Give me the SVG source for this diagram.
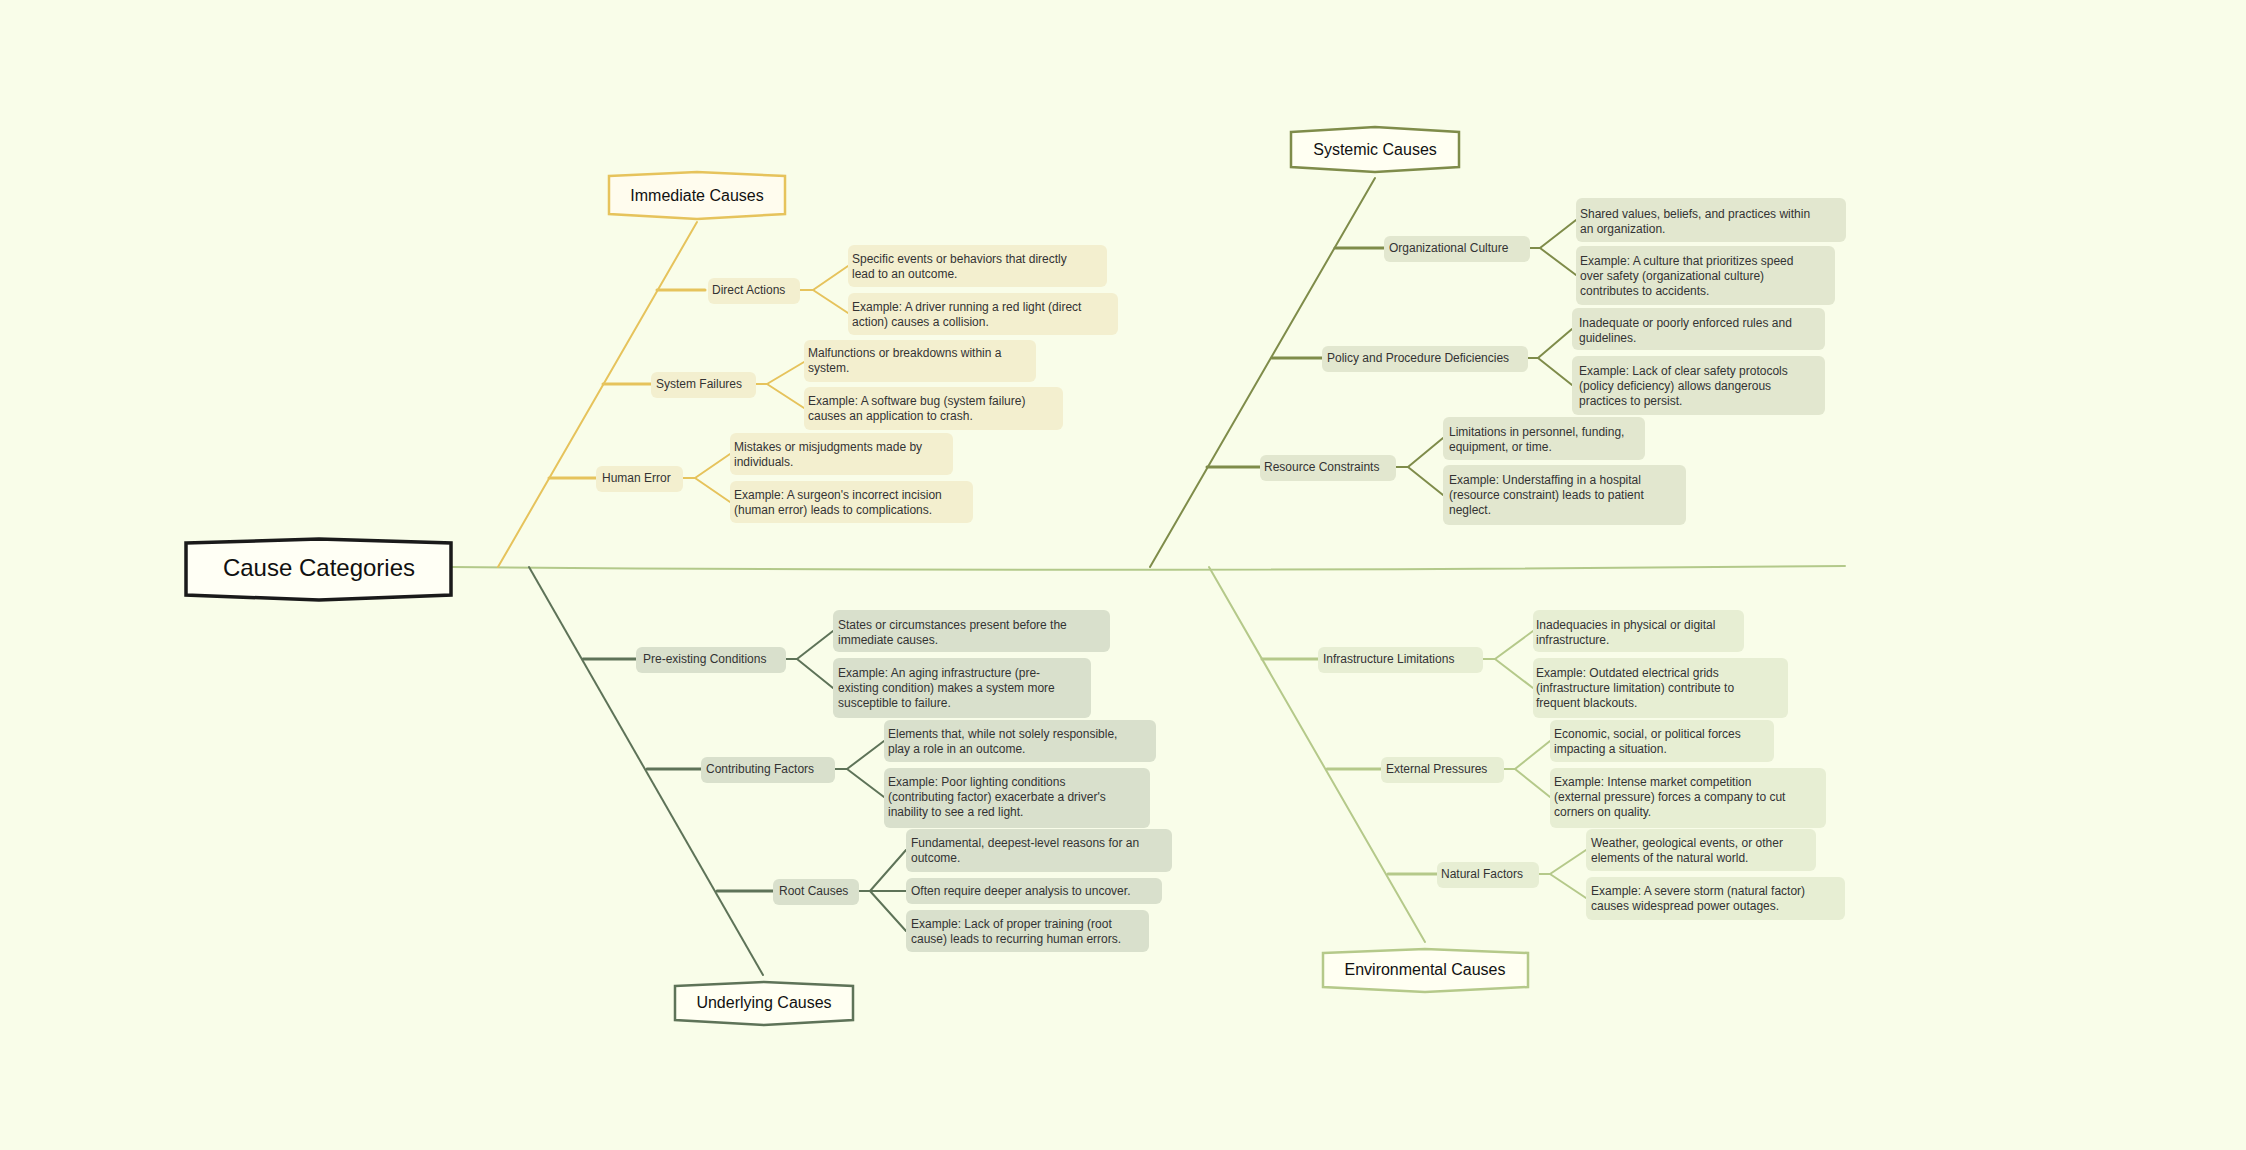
<svg xmlns="http://www.w3.org/2000/svg" width="2246" height="1150" viewBox="0 0 2246 1150">
<style>
text{font-family:"Liberation Sans",Arial,sans-serif;fill:#333;font-size:12px}
.t{font-size:16px;fill:#111;text-anchor:middle}
.r{font-size:24px;fill:#111;text-anchor:middle}
.c line,.c path{fill:none;stroke-linecap:round}
.y{stroke:#e6c35c}.o{stroke:#7f8c4a}.u{stroke:#5e7358}.e{stroke:#b5c98a}
.fy{fill:#f3efcf}.fo{fill:#e2e7cf}.fu{fill:#d9e0cc}.fe{fill:#e7eed3}
.hy{fill:#fffcee;stroke:#e6c35c;stroke-width:2.5}.ho{fill:#fffff2;stroke:#7f8c4a;stroke-width:2.5}
.hu{fill:#fffff2;stroke:#5e7358;stroke-width:2.5}.he{fill:#fffff2;stroke:#b5c98a;stroke-width:2.5}
</style>
<rect width="2246" height="1150" fill="#f9fde9"/>
<g class="c" id="connectors">
<path d="M451 567 Q1100 573 1845 566" stroke="#b3c98a" stroke-width="2"/>
<g class="y" stroke-width="2">
<line x1="498" y1="567" x2="697" y2="222"/>
<line x1="657" y1="290" x2="705" y2="290" stroke-width="3"/><line x1="800" y1="290" x2="813" y2="290"/><line x1="813" y1="290" x2="848" y2="266"/><line x1="813" y1="290" x2="848" y2="313"/>
<line x1="603" y1="384" x2="651" y2="384" stroke-width="3"/><line x1="756" y1="384" x2="767" y2="384"/><line x1="767" y1="384" x2="804" y2="362"/><line x1="767" y1="384" x2="804" y2="408"/>
<line x1="549" y1="478" x2="596" y2="478" stroke-width="3"/><line x1="683" y1="478" x2="695" y2="478"/><line x1="695" y1="478" x2="730" y2="454"/><line x1="695" y1="478" x2="730" y2="502"/>
</g>
<g class="o" stroke-width="2">
<line x1="1150" y1="567" x2="1375" y2="178"/>
<line x1="1335" y1="248" x2="1384" y2="248" stroke-width="3"/><line x1="1530" y1="248" x2="1540" y2="248"/><line x1="1540" y1="248" x2="1576" y2="220"/><line x1="1540" y1="248" x2="1576" y2="275"/>
<line x1="1272" y1="358" x2="1322" y2="358" stroke-width="3"/><line x1="1528" y1="358" x2="1538" y2="358"/><line x1="1538" y1="358" x2="1572" y2="329"/><line x1="1538" y1="358" x2="1572" y2="385"/>
<line x1="1207" y1="467" x2="1260" y2="467" stroke-width="3"/><line x1="1396" y1="467" x2="1408" y2="467"/><line x1="1408" y1="467" x2="1443" y2="438"/><line x1="1408" y1="467" x2="1443" y2="495"/>
</g>
<g class="u" stroke-width="2">
<line x1="529" y1="567" x2="763" y2="975"/>
<line x1="583" y1="659" x2="636" y2="659" stroke-width="3"/><line x1="786" y1="659" x2="797" y2="659"/><line x1="797" y1="659" x2="833" y2="631"/><line x1="797" y1="659" x2="833" y2="688"/>
<line x1="647" y1="769" x2="701" y2="769" stroke-width="3"/><line x1="835" y1="769" x2="847" y2="769"/><line x1="847" y1="769" x2="884" y2="741"/><line x1="847" y1="769" x2="884" y2="797"/>
<line x1="717" y1="891" x2="773" y2="891" stroke-width="3"/><line x1="859" y1="891" x2="870" y2="891"/><line x1="870" y1="891" x2="906" y2="850"/><line x1="870" y1="891" x2="906" y2="891"/><line x1="870" y1="891" x2="906" y2="931"/>
</g>
<g class="e" stroke-width="2">
<line x1="1209" y1="567" x2="1425" y2="942"/>
<line x1="1262" y1="659" x2="1318" y2="659" stroke-width="3"/><line x1="1483" y1="659" x2="1495" y2="659"/><line x1="1495" y1="659" x2="1533" y2="631"/><line x1="1495" y1="659" x2="1533" y2="688"/>
<line x1="1327" y1="769" x2="1381" y2="769" stroke-width="3"/><line x1="1504" y1="769" x2="1515" y2="769"/><line x1="1515" y1="769" x2="1550" y2="741"/><line x1="1515" y1="769" x2="1550" y2="797"/>
<line x1="1388" y1="874" x2="1437" y2="874" stroke-width="3"/><line x1="1539" y1="874" x2="1550" y2="874"/><line x1="1550" y1="874" x2="1586" y2="850"/><line x1="1550" y1="874" x2="1586" y2="898"/>
</g>
</g>
<g id="root"><path d="M186 543 L319 539 L451 543 L451 595 L319 600 L186 595 Z" fill="#fffff5" stroke="#1a1a1a" stroke-width="3.5"/><text class="r" x="319" y="576">Cause Categories</text></g>

<g id="immediate"><path d="M609 176 L697 172 L785 176 L785 214 L697 219 L609 214 Z" class="hy"/><text class="t" x="697" y="201">Immediate Causes</text></g>
<g id="direct-actions"><rect x="708" y="278" width="92" height="26" rx="6" class="fy"/><text x="712" y="294">Direct Actions</text></g>
<g id="da1"><rect x="848" y="245" width="259" height="42" rx="6" class="fy"/><text x="852" y="263">Specific events or behaviors that directly<tspan x="852" dy="15">lead to an outcome.</tspan></text></g>
<g id="da2"><rect x="848" y="293" width="270" height="42" rx="6" class="fy"/><text x="852" y="311">Example: A driver running a red light (direct<tspan x="852" dy="15">action) causes a collision.</tspan></text></g>
<g id="system-failures"><rect x="651" y="372" width="105" height="26" rx="6" class="fy"/><text x="656" y="388">System Failures</text></g>
<g id="sf1"><rect x="804" y="340" width="232" height="42" rx="6" class="fy"/><text x="808" y="357">Malfunctions or breakdowns within a<tspan x="808" dy="15">system.</tspan></text></g>
<g id="sf2"><rect x="804" y="387" width="259" height="43" rx="6" class="fy"/><text x="808" y="405">Example: A software bug (system failure)<tspan x="808" dy="15">causes an application to crash.</tspan></text></g>
<g id="human-error"><rect x="596" y="466" width="87" height="26" rx="6" class="fy"/><text x="602" y="482">Human Error</text></g>
<g id="he1"><rect x="730" y="433" width="223" height="42" rx="6" class="fy"/><text x="734" y="451">Mistakes or misjudgments made by<tspan x="734" dy="15">individuals.</tspan></text></g>
<g id="he2"><rect x="730" y="481" width="243" height="42" rx="6" class="fy"/><text x="734" y="499">Example: A surgeon's incorrect incision<tspan x="734" dy="15">(human error) leads to complications.</tspan></text></g>

<g id="systemic"><path d="M1291 132 L1375 127 L1459 132 L1459 167 L1375 172 L1291 167 Z" class="ho"/><text class="t" x="1375" y="155">Systemic Causes</text></g>
<g id="org-culture"><rect x="1384" y="236" width="146" height="26" rx="6" class="fo"/><text x="1389" y="252">Organizational Culture</text></g>
<g id="oc1"><rect x="1576" y="198" width="270" height="44" rx="6" class="fo"/><text x="1580" y="218">Shared values, beliefs, and practices within<tspan x="1580" dy="15">an organization.</tspan></text></g>
<g id="oc2"><rect x="1576" y="246" width="259" height="59" rx="6" class="fo"/><text x="1580" y="265">Example: A culture that prioritizes speed<tspan x="1580" dy="15">over safety (organizational culture)</tspan><tspan x="1580" dy="15">contributes to accidents.</tspan></text></g>
<g id="policy"><rect x="1322" y="346" width="206" height="26" rx="6" class="fo"/><text x="1327" y="362">Policy and Procedure Deficiencies</text></g>
<g id="pp1"><rect x="1572" y="308" width="253" height="42" rx="6" class="fo"/><text x="1579" y="327">Inadequate or poorly enforced rules and<tspan x="1579" dy="15">guidelines.</tspan></text></g>
<g id="pp2"><rect x="1572" y="356" width="253" height="59" rx="6" class="fo"/><text x="1579" y="375">Example: Lack of clear safety protocols<tspan x="1579" dy="15">(policy deficiency) allows dangerous</tspan><tspan x="1579" dy="15">practices to persist.</tspan></text></g>
<g id="resource"><rect x="1260" y="455" width="136" height="26" rx="6" class="fo"/><text x="1264" y="471">Resource Constraints</text></g>
<g id="rc1"><rect x="1443" y="417" width="202" height="43" rx="6" class="fo"/><text x="1449" y="436">Limitations in personnel, funding,<tspan x="1449" dy="15">equipment, or time.</tspan></text></g>
<g id="rc2"><rect x="1443" y="465" width="243" height="60" rx="6" class="fo"/><text x="1449" y="484">Example: Understaffing in a hospital<tspan x="1449" dy="15">(resource constraint) leads to patient</tspan><tspan x="1449" dy="15">neglect.</tspan></text></g>

<g id="underlying"><path d="M675 986 L764 982 L853 986 L853 1020 L764 1025 L675 1020 Z" class="hu"/><text class="t" x="764" y="1008">Underlying Causes</text></g>
<g id="preexisting"><rect x="636" y="647" width="150" height="26" rx="6" class="fu"/><text x="643" y="663">Pre-existing Conditions</text></g>
<g id="pe1"><rect x="833" y="610" width="277" height="42" rx="6" class="fu"/><text x="838" y="629">States or circumstances present before the<tspan x="838" dy="15">immediate causes.</tspan></text></g>
<g id="pe2"><rect x="833" y="658" width="258" height="60" rx="6" class="fu"/><text x="838" y="677">Example: An aging infrastructure (pre-<tspan x="838" dy="15">existing condition) makes a system more</tspan><tspan x="838" dy="15">susceptible to failure.</tspan></text></g>
<g id="contributing"><rect x="701" y="757" width="134" height="26" rx="6" class="fu"/><text x="706" y="773">Contributing Factors</text></g>
<g id="cf1"><rect x="884" y="720" width="272" height="42" rx="6" class="fu"/><text x="888" y="738">Elements that, while not solely responsible,<tspan x="888" dy="15">play a role in an outcome.</tspan></text></g>
<g id="cf2"><rect x="884" y="768" width="266" height="60" rx="6" class="fu"/><text x="888" y="786">Example: Poor lighting conditions<tspan x="888" dy="15">(contributing factor) exacerbate a driver's</tspan><tspan x="888" dy="15">inability to see a red light.</tspan></text></g>
<g id="rootcauses"><rect x="773" y="879" width="86" height="26" rx="6" class="fu"/><text x="779" y="895">Root Causes</text></g>
<g id="rt1"><rect x="906" y="829" width="266" height="43" rx="6" class="fu"/><text x="911" y="847">Fundamental, deepest-level reasons for an<tspan x="911" dy="15">outcome.</tspan></text></g>
<g id="rt2"><rect x="906" y="878" width="256" height="26" rx="6" class="fu"/><text x="911" y="895">Often require deeper analysis to uncover.</text></g>
<g id="rt3"><rect x="906" y="910" width="243" height="42" rx="6" class="fu"/><text x="911" y="928">Example: Lack of proper training (root<tspan x="911" dy="15">cause) leads to recurring human errors.</tspan></text></g>

<g id="environmental"><path d="M1323 953 L1425 949 L1528 953 L1528 987 L1425 992 L1323 987 Z" class="he"/><text class="t" x="1425" y="975">Environmental Causes</text></g>
<g id="infra"><rect x="1318" y="647" width="165" height="26" rx="6" class="fe"/><text x="1323" y="663">Infrastructure Limitations</text></g>
<g id="in1"><rect x="1533" y="610" width="211" height="42" rx="6" class="fe"/><text x="1536" y="629">Inadequacies in physical or digital<tspan x="1536" dy="15">infrastructure.</tspan></text></g>
<g id="in2"><rect x="1533" y="658" width="255" height="60" rx="6" class="fe"/><text x="1536" y="677">Example: Outdated electrical grids<tspan x="1536" dy="15">(infrastructure limitation) contribute to</tspan><tspan x="1536" dy="15">frequent blackouts.</tspan></text></g>
<g id="external"><rect x="1381" y="757" width="123" height="26" rx="6" class="fe"/><text x="1386" y="773">External Pressures</text></g>
<g id="ex1"><rect x="1550" y="720" width="224" height="42" rx="6" class="fe"/><text x="1554" y="738">Economic, social, or political forces<tspan x="1554" dy="15">impacting a situation.</tspan></text></g>
<g id="ex2"><rect x="1550" y="768" width="276" height="60" rx="6" class="fe"/><text x="1554" y="786">Example: Intense market competition<tspan x="1554" dy="15">(external pressure) forces a company to cut</tspan><tspan x="1554" dy="15">corners on quality.</tspan></text></g>
<g id="natural"><rect x="1437" y="862" width="102" height="26" rx="6" class="fe"/><text x="1441" y="878">Natural Factors</text></g>
<g id="nf1"><rect x="1586" y="829" width="230" height="42" rx="6" class="fe"/><text x="1591" y="847">Weather, geological events, or other<tspan x="1591" dy="15">elements of the natural world.</tspan></text></g>
<g id="nf2"><rect x="1586" y="877" width="259" height="43" rx="6" class="fe"/><text x="1591" y="895">Example: A severe storm (natural factor)<tspan x="1591" dy="15">causes widespread power outages.</tspan></text></g>
</svg>
